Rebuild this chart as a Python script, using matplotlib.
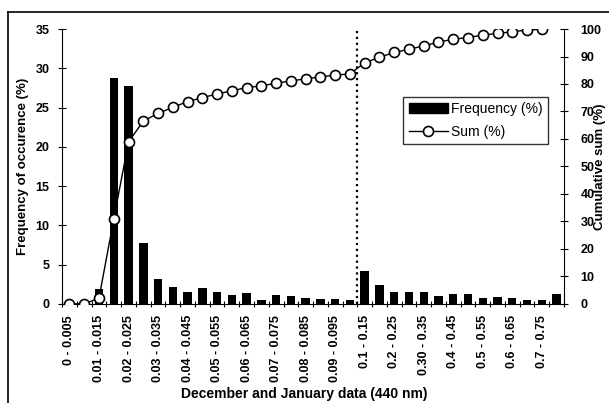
import numpy as np
import matplotlib
matplotlib.use("Agg")
import matplotlib.pyplot as plt
from matplotlib.lines import Line2D
from matplotlib.patches import Patch

# ---------------------------------------------------------------- #
#                              DATA                                #
# ---------------------------------------------------------------- #
bins = [
    "0 - 0.005", "0.005 - 0.01", "0.01 - 0.015", "0.015 - 0.02",
    "0.02 - 0.025", "0.025 - 0.03", "0.03 - 0.035", "0.035 - 0.04",
    "0.04 - 0.045", "0.045 - 0.05", "0.05 - 0.055", "0.055 - 0.06",
    "0.06 - 0.065", "0.065 - 0.07", "0.07 - 0.075", "0.075 - 0.08",
    "0.08 - 0.085", "0.085 - 0.09", "0.09 - 0.095", "0.095 - 0.1",
    "0.1 - 0.15", "0.15 - 0.2", "0.2 - 0.25", "0.25 - 0.30",
    "0.30 - 0.35", "0.35 - 0.4", "0.4 - 0.45", "0.45 - 0.5",
    "0.5 - 0.55", "0.55 - 0.6", "0.6 - 0.65", "0.65 - 0.7",
    "0.7 - 0.75", "0.75 - 0.8",
]
frequency = [
    0.0, 0.0, 1.9, 28.8, 27.8, 7.7, 3.15, 2.2, 1.57, 2.0,
    1.49, 1.15, 1.44, 0.5, 1.15, 1.02, 0.8, 0.64, 0.64, 0.5,
    4.2, 2.42, 1.57, 1.57, 1.57, 1.0, 1.23, 1.23, 0.72, 0.85,
    0.72, 0.5, 0.5, 1.23,
]
cumulative = [
    0.0, 0.0, 2.1, 30.9, 58.9, 66.5, 69.3, 71.5, 73.6, 75.0,
    76.4, 77.5, 78.7, 79.3, 80.3, 81.1, 81.9, 82.6, 83.2, 83.7,
    87.7, 89.7, 91.5, 92.6, 93.9, 95.2, 96.3, 96.9, 97.8, 98.4,
    99.0, 99.6, 99.9, 100.6,
]

plt.rcParams['font.family'] = ['Liberation Sans', 'DejaVu Sans']

# ---------------------------------------------------------------- #
#                              PLOT                                #
# ---------------------------------------------------------------- #
fig = plt.figure(figsize=(6.09, 4.03), dpi=100)
ax = fig.add_axes([0.102, 0.246, 0.824, 0.682])
x = np.arange(len(bins))

ax.bar(x, frequency, width=0.57, color='black', zorder=2)
ax.set_xlim(-0.5, len(bins) - 0.5)
ax.set_ylim(0, 35)
ax.set_yticks(range(0, 36, 5))
ax.set_xticks(x[::2])
ax.set_xticklabels(bins[::2], rotation=90, fontsize=9, fontweight='bold')
ax.set_xticks(np.arange(len(bins) + 1) - 0.5, minor=True)
ax.tick_params(axis='x', which='major', length=0, pad=8)
ax.tick_params(axis='x', which='minor', direction='inout', length=5, width=0.8)
ax.tick_params(axis='y', direction='inout', length=6, width=0.8,
               labelsize=9, pad=6)
for lbl in ax.get_yticklabels():
    lbl.set_fontweight('bold')
ax.spines['top'].set_visible(False)
ax.spines['right'].set_visible(False)
for s in ('left', 'bottom'):
    ax.spines[s].set_linewidth(0.8)

ax.set_ylabel('Frequency of occurence (%)', fontsize=9.5,
              fontweight='bold', labelpad=5)
fig.text(0.5, 0.022, 'December and January data (440 nm)', fontsize=10,
         fontweight='bold', ha='center', va='center')

# divider between fine and coarse bins
ax.axvline(19.5, color='black', linestyle=':', linewidth=1.6, zorder=3)

# cumulative curve on secondary axis
ax2 = ax.twinx()
ax2.set_ylim(0, 100)
ax2.set_yticks(range(0, 101, 10))
ax2.plot(x, cumulative, color='black', linewidth=1.0, zorder=3)
ax2.plot(x[:-1], cumulative[:-1], linestyle='none', marker='o',
         markersize=7.2, markerfacecolor='white', markeredgecolor='black',
         markeredgewidth=1.2, zorder=4)
ax2.tick_params(axis='y', direction='inout', length=6, width=0.8,
                labelsize=9, pad=9)
for lbl in ax2.get_yticklabels():
    lbl.set_fontweight('bold')
for s in ('top', 'left', 'bottom'):
    ax2.spines[s].set_visible(False)
ax2.spines['right'].set_linewidth(0.8)
fig.text(0.986, 0.587, 'Cumulative sum (%)', fontsize=9.5, fontweight='bold',
         rotation=90, ha='center', va='center')

handles = [
    Patch(facecolor='black', edgecolor='black'),
    Line2D([], [], color='black', linewidth=1.0, marker='o', markersize=7.2,
           markerfacecolor='white', markeredgecolor='black',
           markeredgewidth=1.2),
]
leg = ax2.legend(handles, ['Frequency (%)', 'Sum (%)'],
                 loc='upper left', bbox_to_anchor=(0.68, 0.754),
                 fontsize=10, frameon=True, fancybox=False,
                 borderpad=0.4, labelspacing=0.6, handlelength=2.8,
                 handletextpad=0.25, borderaxespad=0)
leg.get_frame().set_edgecolor('black')
leg.get_frame().set_linewidth(1.0)

# chart border
fig.add_artist(Line2D([0.0135, 1.0], [0.970, 0.970], color='black',
                      linewidth=1.2, transform=fig.transFigure))
fig.add_artist(Line2D([0.0135, 0.0135], [0.0, 0.970], color='black',
                      linewidth=1.2, transform=fig.transFigure))

fig.savefig('out.png', dpi=100)
